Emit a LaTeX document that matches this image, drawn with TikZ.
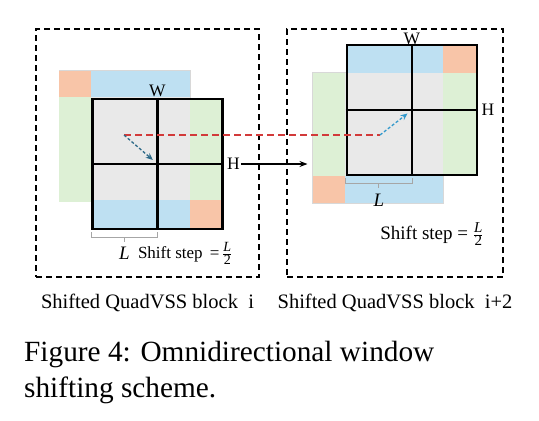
\documentclass[tikz,border=0pt]{standalone}
\usepackage{fontspec}
\setmainfont{Liberation Serif}
\usetikzlibrary{positioning,calc,arrows.meta}
\definecolor{tileO}{HTML}{F8C5A8}
\definecolor{tileB}{HTML}{BEE0F2}
\definecolor{tileG}{HTML}{DDF0D5}
\definecolor{tileY}{HTML}{E9E9E9}
\definecolor{ghostline}{HTML}{D8D8D8}
\definecolor{moveA}{HTML}{2E6A88}
\definecolor{moveB}{HTML}{3399CC}
\definecolor{trace}{HTML}{D23A3A}
\newcommand{\halfstep}[1]{$\frac{\mbox{\fontsize{#1}{#1}\selectfont\textit{L}}}{\mbox{\fontsize{#1}{#1}\selectfont 2}}$}

\begin{document}
\begin{tikzpicture}[x=1pt,y=-1pt,
    panel/.style={draw, dash pattern=on 6pt off 4pt, line width=1.3pt, inner sep=0pt},
    ghost/.style={draw=ghostline, fill=tileY, line width=1pt, minimum size=131pt, inner sep=0pt},
    win/.style={draw, line width=2.6pt, minimum size=130pt, inner sep=0pt},
    gridline/.style={line width=2.6pt},
    lbl/.style={inner sep=1pt, font=\fontsize{17.5}{19}\selectfont},
    brk/.style={draw=gray!70, line width=0.8pt},
    blocktag/.style={inner sep=0pt, font=\fontsize{20.5}{23}\selectfont}]
    \useasboundingbox (0,0) rectangle (539,421);

    % block i
    \node[panel, minimum width=223pt, minimum height=248pt] (pA) at (147.5,153) {};
    \node[ghost] (gA) at (124.5,136) {};
    \fill[tileO] (59,70.5) rectangle (91,97);
    \fill[tileB] (91,70.5) rectangle (190,97);
    \fill[tileG] (59,97) rectangle (91,201.5);
    \fill[tileG] (190,99) rectangle (223,200);
    \fill[tileB] (92,200) rectangle (190,229);
    \fill[tileO] (190,200) rectangle (223,229);
    \node[win] (wA) at (157.5,164) {};
    \draw[gridline] (wA.north) -- (wA.south);
    \draw[gridline] (wA.west) -- (wA.east);
    \node[lbl, above=0pt of wA.north] (wlA) {W};
    \node[lbl, right=2pt of wA.east] (hA) {H};
    \draw[brk] ($(wA.south west)+(0,2)$) -- ++(0,5) -- ($(wA.south)+(0,7)$) -- ++(0,-5);
    \draw[brk] ($(wA.south west)!0.5!(wA.south)+(0,7)$) -- ++(0,5) coordinate (tA);
    \node[lbl, below=4pt of tA, font=\fontsize{19}{20}\selectfont] (lA) {\textit{L}};
    \node[lbl, right=6pt of lA, font=\fontsize{17}{20}\selectfont] (sA) {Shift step \,=\,\halfstep{14}};
    \node[blocktag, below=16pt of pA] (cA) {Shifted QuadVSS block \ i};

    % block i+2
    \node[panel, minimum width=216pt, minimum height=248pt] (pB) at (395,153) {};
    \node[ghost] (gB) at (377.5,137.5) {};
    \fill[tileG] (313,73) rectangle (345,176);
    \fill[tileO] (313,176) rectangle (345,202.5);
    \fill[tileB] (345,176) rectangle (442.5,202.5);
    \fill[tileB] (347,45) rectangle (443,73);
    \fill[tileO] (443,45) rectangle (477,73);
    \fill[tileG] (443,73) rectangle (477,175);
    \node[win] (wB) at (412,110) {};
    \draw[gridline] (wB.north) -- (wB.south);
    \draw[gridline] (wB.west) -- (wB.east);
    \node[lbl, above=-2pt of wB.north] (wlB) {W};
    \node[lbl, right=2pt of wB.east] (hB) {H};
    \draw[brk] ($(wB.south west)+(0,2)$) -- ++(0,5) -- ($(wB.south)+(0,7)$) -- ++(0,-5);
    \draw[brk] ($(wB.south west)!0.5!(wB.south)+(0,7)$) -- ++(0,5) coordinate (tB);
    \node[lbl, below=5pt of tB, font=\fontsize{19}{20}\selectfont] (lB) {\textit{L}};
    \node[lbl, font=\fontsize{19}{22}\selectfont] (sB) at (432,234) {Shift step = \halfstep{15}};
    \node[blocktag, below=16pt of pB] (cB) {Shifted QuadVSS block \ i+2};

    % shifts
    \coordinate (oA) at (124,135);
    \coordinate (oB) at (380,135);
    \draw[trace, line width=1.5pt, dash pattern=on 7pt off 4pt] (oA) -- (oB);
    \draw[moveA, line width=1.3pt, dash pattern=on 3pt off 2pt, -{Stealth[length=7pt,width=6pt]}] (oA) -- ($(oA)!0.86!(wA.center)$);
    \draw[moveB, line width=1.3pt, dash pattern=on 3pt off 2pt, -{Stealth[length=7pt,width=6pt]}] (oB) -- ($(oB)!0.86!(wB.center)$);
    \coordinate (gBw) at ($(gB.west)+(-4,0)$);
    \draw[line width=1.2pt, -{Stealth[length=8pt,width=6pt]}] (hA.east) -- (gBw |- hA);

    \node[inner sep=0pt, anchor=north west, align=left, font=\fontsize{29.3}{36}\selectfont] (fig) at (24,341) {Figure 4: Omnidirectional window\\shifting scheme.};
\end{tikzpicture}
\end{document}
